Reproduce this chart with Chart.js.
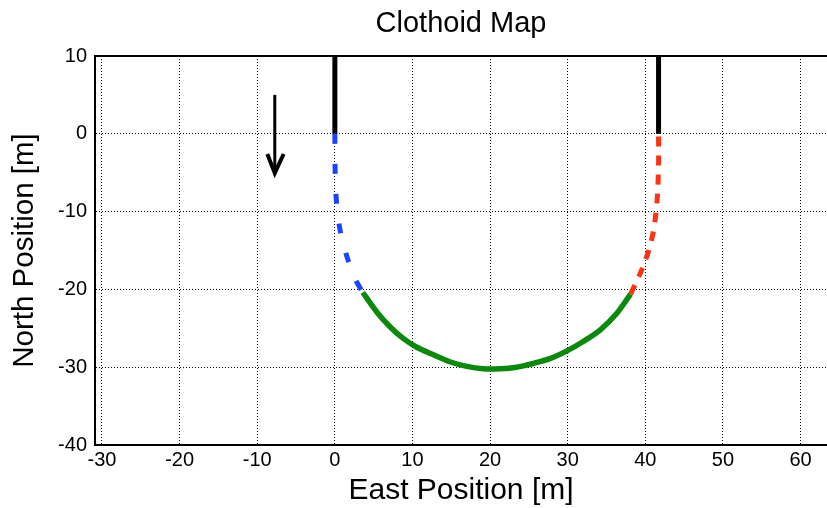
<!DOCTYPE html>
<html>
<head>
<meta charset="utf-8">
<script src="https://cdn.jsdelivr.net/npm/chart.js@4/dist/chart.umd.min.js"></script>
<style>
  html, body { margin: 0; padding: 0; background: #fff; }
  #wrap { width: 827px; height: 508px; }
</style>
</head>
<body>
<div id="wrap"><canvas id="map"></canvas></div>
<script>
// --- data ---
const xTicks = [-30, -20, -10, 0, 10, 20, 30, 40, 50, 60];
const yTicks = [-40, -30, -20, -10, 0, 10];

// entry clothoid (blue, dashed)
const entryEast = [0, 0.02, 0.15, 0.6, 1.5, 2.6, 3.6];
const entryNorth = [0, -4, -8, -12, -15.6, -18.6, -20.4];

// constant-radius arc (green)
const arcEast = [3.6, 5.4, 7.1, 8.8, 10.5, 12.7, 14.8, 17.0, 19.1, 21.3, 23.4, 25.6, 27.7, 29.9, 32.0, 34.2, 36.3, 38.1];
const arcNorth = [-20.4, -22.9, -24.8, -26.3, -27.4, -28.4, -29.3, -29.9, -30.2, -30.2, -30.0, -29.5, -28.9, -27.9, -26.7, -25.2, -23.1, -20.6];

// exit clothoid (red, dashed)
const exitEast = [38.1, 39.4, 40.3, 40.9, 41.3, 41.55, 41.7, 41.7];
const exitNorth = [-20.6, -17.8, -15.4, -13.2, -10.7, -8, -4, 0];

// straight legs (black)
const inEast = [0, 0], inNorth = [0, 10];
const outEast = [41.7, 41.7], outNorth = [0, 10];

// direction arrow
const arrowEast = [-7.74, -7.74], arrowNorth = [5, -4.6];
const headEast = [-8.7, -7.74, -6.6], headNorth = [-2.6, -5.06, -2.6];

function pts(xs, ys) {
  return xs.map((x, i) => ({ x, y: ys[i] }));
}

function line(data, color, width, dash) {
  return {
    data,
    showLine: true,
    borderColor: color,
    backgroundColor: color,
    borderWidth: width,
    borderDash: dash || [],
    pointRadius: 0,
    tension: 0.3,
    fill: false
  };
}

const font = 'Liberation Sans, Arial, Helvetica, sans-serif';

new Chart(document.getElementById('map'), {
  type: 'scatter',
  data: {
    datasets: [
      line(pts(inEast, inNorth), '#000', 5),
      line(pts(outEast, outNorth), '#000', 5),
      line(pts(arcEast, arcNorth), '#0a8a0a', 5.5),
      line(pts(entryEast, entryNorth), '#1a44ff', 5, [10, 20]),
      line(pts(exitEast, exitNorth), '#ff3311', 5, [10, 9]),
      line(pts(arrowEast, arrowNorth), '#000', 3),
      { ...line(pts(headEast, headNorth), '#000', 4), tension: 0 }
    ]
  },
  options: {
    responsive: true,
    maintainAspectRatio: false,
    animation: false,
    layout: { padding: 0 },
    plugins: {
      legend: { display: false },
      tooltip: { enabled: false },
      title: {
        display: true,
        fullSize: false,
        text: 'Clothoid Map',
        color: '#000',
        font: { family: font, size: 29, weight: 'normal', lineHeight: 1.2 },
        padding: { top: 7, bottom: 0 }
      }
    },
    scales: {
      x: {
        type: 'linear',
        min: -30.9,
        max: 63.4,
        afterBuildTicks: s => { s.ticks = xTicks.map(v => ({ value: v })); },
        afterFit: s => { s.height = 63; },
        grid: { color: '#000', lineWidth: 1, drawTicks: false },
        border: { display: true, color: '#000', width: 2, dash: [1, 2] },
        ticks: { color: '#000', font: { family: font, size: 20 }, padding: 3, maxRotation: 0 },
        title: {
          display: true,
          text: 'East Position [m]',
          color: '#000',
          font: { family: font, size: 30, lineHeight: 1 },
          padding: { top: 0, bottom: 2 }
        }
      },
      x2: {
        type: 'linear',
        position: 'top',
        min: -30.9,
        max: 63.4,
        afterFit: s => { s.height = 14.2; },
        grid: { display: false },
        border: { display: true, color: '#000', width: 2 },
        ticks: { display: false }
      },
      y: {
        type: 'linear',
        min: -40,
        max: 10,
        afterBuildTicks: s => { s.ticks = yTicks.map(v => ({ value: v })); },
        afterFit: s => { s.width = 95; },
        grid: { color: '#000', lineWidth: 1, drawTicks: false },
        border: { display: true, color: '#000', width: 2, dash: [1, 2] },
        ticks: { color: '#000', font: { family: font, size: 20 }, padding: 8 },
        title: {
          display: true,
          text: 'North Position [m]',
          color: '#000',
          font: { family: font, size: 29.5, lineHeight: 1 },
          padding: { top: 10, bottom: 0 }
        }
      }
    }
  }
});
</script>
</body>
</html>
